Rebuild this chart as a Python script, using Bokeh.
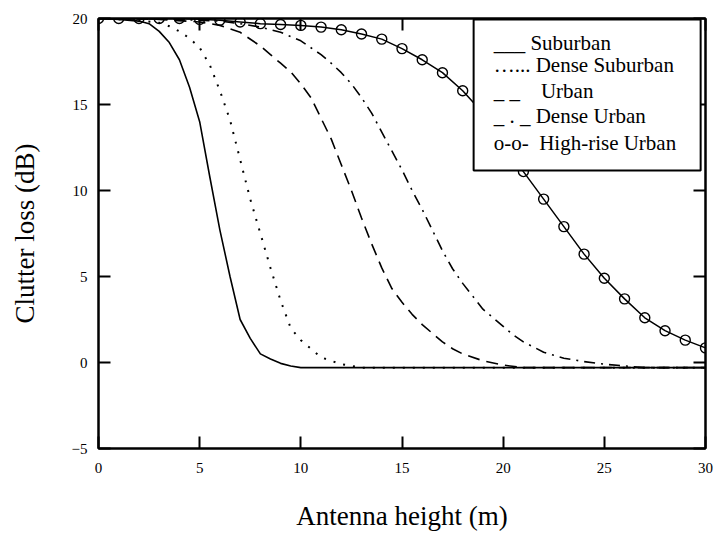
from bokeh.plotting import figure
from bokeh.models import Range1d, LinearAxis, FixedTicker, BoxAnnotation, Label
from bokeh.embed import file_html
from bokeh.resources import INLINE

# ---------------- data ----------------
x_ticks = [0, 5, 10, 15, 20, 25, 30]
x_tick_labels = ["0", "5", "10", "15", "20", "25", "30"]
y_ticks = [-5, 0, 5, 10, 15, 20]
y_tick_labels = ["\u22125", "0", "5", "10", "15", "20"]

suburban_x = [0, 1, 2, 2.5, 3, 3.5, 4, 4.5, 5, 5.5, 6, 6.5, 7, 7.5, 8, 8.5, 9, 9.5, 10, 30]
suburban_y = [20, 19.95, 19.85, 19.7, 19.25, 18.6, 17.6, 16.0, 14.0, 10.8, 7.7, 5.0, 2.5,
              1.4, 0.5, 0.2, -0.05, -0.2, -0.3, -0.3]

dense_suburban_x = [0, 2, 3, 3.5, 4, 4.5, 5, 5.5, 6, 6.5, 7, 7.5, 8, 8.5, 9, 9.5, 10, 10.5,
                    11, 12, 13, 30]
dense_suburban_y = [20, 19.9, 19.75, 19.55, 19.25, 18.85, 18.3, 17.3, 15.8, 14.1, 11.8, 9.5,
                    7.5, 5.5, 3.6, 2.0, 1.3, 0.8, 0.3, -0.1, -0.3, -0.3]

urban_x = [0, 3, 5, 6, 7, 8, 8.5, 9, 9.5, 10, 10.5, 11, 11.5, 12, 12.5, 13, 13.5, 14, 14.5,
           15, 15.5, 16, 16.5, 17, 17.5, 18, 19, 20, 21, 30]
urban_y = [20, 19.95, 19.8, 19.6, 19.2, 18.4, 17.9, 17.4, 16.9, 16.2, 15.4, 14.2, 13.0, 11.5,
           10.0, 8.4, 6.9, 5.5, 4.3, 3.5, 2.8, 2.2, 1.7, 1.2, 0.8, 0.5, 0.1, -0.15, -0.3, -0.3]

dense_urban_x = [0, 4, 6, 7, 8, 9, 9.5, 10, 10.5, 11, 11.5, 12, 12.5, 13, 13.5, 14, 14.5, 15,
                 15.5, 16, 16.5, 17, 17.5, 18, 18.5, 19, 19.5, 20, 20.5, 21, 22, 23, 24, 25,
                 26, 27, 30]
dense_urban_y = [20, 19.95, 19.85, 19.7, 19.5, 19.2, 18.95, 18.7, 18.3, 17.9, 17.4, 16.85,
                 16.2, 15.4, 14.5, 13.4, 12.3, 11.2, 10.0, 8.9, 7.7, 6.5, 5.45, 4.6, 3.85,
                 3.1, 2.6, 2.1, 1.6, 1.2, 0.6, 0.25, 0.05, -0.1, -0.2, -0.3, -0.3]

high_rise_x = list(range(0, 31))
high_rise_y = [20, 20, 20, 20, 20, 19.95, 19.9, 19.8, 19.7, 19.65, 19.6, 19.5, 19.35, 19.1,
               18.8, 18.25, 17.6, 16.85, 15.8, 14.5, 12.9, 11.1, 9.5, 7.9, 6.3, 4.9, 3.7,
               2.6, 1.85, 1.3, 0.85]

legend_labels = [
    "___ Suburban",
    "\u2026... Dense Suburban",
    "_ _\u00a0\u00a0\u00a0 Urban",
    "_ . _ Dense Urban",
    "o-o-\u00a0 High-rise Urban",
]

x_title = "Antenna height (m)"
y_title = "Clutter loss (dB)"

# ---------------- figure ----------------
FONT = "Liberation Serif"

p = figure(frame_width=607, frame_height=430,
           x_range=Range1d(0, 30), y_range=Range1d(-5, 20),
           output_backend="svg", toolbar_location=None,
           min_border_left=98, min_border_right=8, min_border_top=18, min_border_bottom=88,
           background_fill_color="white", border_fill_color="white")
p.grid.visible = False
p.outline_line_color = "black"
p.outline_line_width = 2


def style_axis(ax, ticks, labels=None, show_labels=True):
    ax.ticker = FixedTicker(ticks=ticks)
    ax.major_tick_in = 12
    ax.major_tick_out = 0
    ax.minor_tick_in = 0
    ax.minor_tick_out = 0
    ax.major_tick_line_color = "black"
    ax.major_tick_line_width = 2
    ax.axis_line_color = "black"
    ax.axis_line_width = 2
    if show_labels:
        ax.major_label_overrides = {t: l for t, l in zip(ticks, labels)}
        ax.major_label_text_font = FONT
        ax.major_label_text_font_size = "15px"
        ax.major_label_text_color = "black"
    else:
        ax.major_label_text_color = None
        ax.major_label_text_font_size = "1px"
        ax.major_label_standoff = 0


xa = p.xaxis[0]
style_axis(xa, x_ticks, x_tick_labels)
xa.major_label_standoff = 14
xa.axis_label = x_title
xa.axis_label_text_font = FONT
xa.axis_label_text_font_size = "27px"
xa.axis_label_text_font_style = "normal"
xa.axis_label_text_color = "black"
xa.axis_label_standoff = 25

ya = p.yaxis[0]
style_axis(ya, y_ticks, y_tick_labels)
ya.major_label_standoff = 11
ya.axis_label = y_title
ya.axis_label_text_font = FONT
ya.axis_label_text_font_size = "27px"
ya.axis_label_text_font_style = "normal"
ya.axis_label_text_color = "black"
ya.axis_label_standoff = 29

top_ax = LinearAxis()
style_axis(top_ax, x_ticks, show_labels=False)
p.add_layout(top_ax, "above")

right_ax = LinearAxis()
style_axis(right_ax, y_ticks, show_labels=False)
p.add_layout(right_ax, "right")

# ---------------- curves ----------------
p.line(suburban_x, suburban_y, line_color="black", line_width=1.6)
p.line(dense_suburban_x, dense_suburban_y, line_color="black", line_width=2,
       line_dash="2 8")
p.line(urban_x, urban_y, line_color="black", line_width=1.6, line_dash="12 7")
p.line(dense_urban_x, dense_urban_y, line_color="black", line_width=1.6,
       line_dash="11 6 2 6")
p.line(high_rise_x, high_rise_y, line_color="black", line_width=1.5)
p.scatter(high_rise_x, high_rise_y, marker="circle", size=10, fill_color=None,
          line_color="black", line_width=1.4)

# ---------------- legend box (text style, as in the reference) ----------------
box = BoxAnnotation(left=18.54, right=29.76, top=19.94, bottom=11.16,
                    fill_color="white", fill_alpha=1.0,
                    line_color="black", line_width=2, line_alpha=1.0, line_dash="solid")
p.add_layout(box)

legend_y = [18.55, 17.27, 15.81, 14.36, 12.79]
for lbl, ly in zip(legend_labels, legend_y):
    p.add_layout(Label(x=19.53, y=ly, text=lbl, text_font=FONT, text_font_size="21px",
                       text_baseline="middle", text_align="left", text_color="black"))

open("out.html", "w").write(file_html(p, INLINE))
